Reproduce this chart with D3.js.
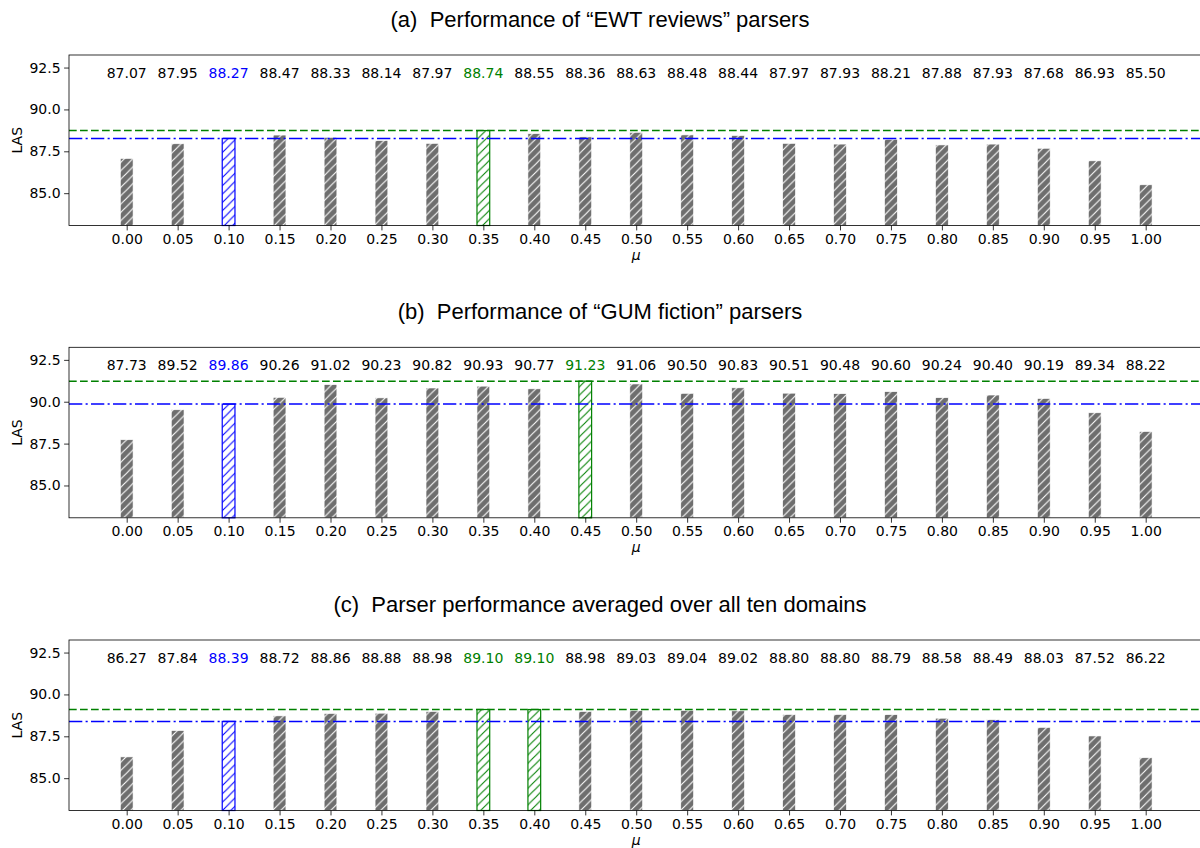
<!DOCTYPE html>
<html><head><meta charset="utf-8">
<script src="https://cdn.jsdelivr.net/npm/d3@7"></script>
<style>html,body{margin:0;padding:0;background:#fff;}svg{display:block;}</style>
</head><body>
<svg id="chart" width="1200" height="848"></svg>
<script>
const mus = ["0.00","0.05","0.10","0.15","0.20","0.25","0.30","0.35","0.40","0.45","0.50","0.55","0.60","0.65","0.70","0.75","0.80","0.85","0.90","0.95","1.00"];
const ewtValues = [87.07,87.95,88.27,88.47,88.33,88.14,87.97,88.74,88.55,88.36,88.63,88.48,88.44,87.97,87.93,88.21,87.88,87.93,87.68,86.93,85.50];
const gumValues = [87.73,89.52,89.86,90.26,91.02,90.23,90.82,90.93,90.77,91.23,91.06,90.50,90.83,90.51,90.48,90.60,90.24,90.40,90.19,89.34,88.22];
const avgValues = [86.27,87.84,88.39,88.72,88.86,88.88,88.98,89.10,89.10,88.98,89.03,89.04,89.02,88.80,88.80,88.79,88.58,88.49,88.03,87.52,86.22];
const titles = ["(a)  Performance of \u201cEWT reviews\u201d parsers","(b)  Performance of \u201cGUM fiction\u201d parsers","(c)  Parser performance averaged over all ten domains"];
const baselineIdx = [2,2,2];
const bestIdx = [[7],[9],[7,8]];
const yTicks = [85.0,87.5,90.0,92.5];
const yDomain = [83.07,93.25];
const labelLevel = 91.9;
const seriesList = [ewtValues, gumValues, avgValues];

const svg = d3.select("#chart");
const defs = svg.append("defs");
function hatch(id, bg, fg){
  const s = 8.33;
  const p = defs.append("pattern").attr("id",id).attr("patternUnits","userSpaceOnUse").attr("width",s).attr("height",s);
  p.append("rect").attr("width",s).attr("height",s).attr("fill",bg);
  const g = p.append("g").attr("stroke",fg).attr("stroke-width",1.1);
  g.append("line").attr("x1",0).attr("y1",s).attr("x2",s).attr("y2",0);
  g.append("line").attr("x1",-1).attr("y1",1).attr("x2",1).attr("y2",-1);
  g.append("line").attr("x1",s-1).attr("y1",s+1).attr("x2",s+1).attr("y2",s-1);
}
hatch("hGray","#6e6e6e","#ffffff");
hatch("hBlue","#ffffff","#0000ff");
hatch("hGreen","#ffffff","#008000");

const tops = [55, 347.3, 640];
const axH = 170.5;
const axL = 69, axR = 1203;
const step = 50.95, x0 = 126.7;
const x = d3.scaleLinear().domain([0, mus.length-1]).range([x0, x0 + step*(mus.length-1)]);
const barW = step*0.25;
const font = "'DejaVu Sans', sans-serif";

seriesList.forEach((vals, pi) => {
  const top = tops[pi];
  const y = d3.scaleLinear().domain(yDomain).range([top+axH, top]);
  const g = svg.append("g");
  const blue = baselineIdx[pi], greens = bestIdx[pi];
  const colorOf = i => i===blue ? "#0000ff" : (greens.includes(i) ? "#008000" : "#000");

  g.selectAll("rect.bar").data(vals).enter().append("rect")
    .attr("x",(d,i)=>x(i)-barW/2).attr("width",barW)
    .attr("y",d=>y(d)).attr("height",d=>y(yDomain[0])-y(d))
    .attr("fill",(d,i)=> i===blue ? "url(#hBlue)" : (greens.includes(i) ? "url(#hGreen)" : "url(#hGray)"))
    .attr("stroke",(d,i)=> i===blue ? "#0000ff" : (greens.includes(i) ? "#008000" : "#ffffff"))
    .attr("stroke-width",(d,i)=> (i===blue||greens.includes(i)) ? 1.2 : 0.6);

  const best = vals[greens[0]], base = vals[blue];
  g.append("line").attr("x1",axL).attr("x2",axR).attr("y1",y(best)).attr("y2",y(best))
    .attr("stroke","#008000").attr("stroke-width",1.5).attr("stroke-dasharray","7.7,3.3");
  g.append("line").attr("x1",axL).attr("x2",axR).attr("y1",y(base)).attr("y2",y(base))
    .attr("stroke","#0000ff").attr("stroke-width",1.5).attr("stroke-dasharray","13.3,3.3,2.1,3.3");

  g.selectAll("text.val").data(vals).enter().append("text")
    .attr("x",(d,i)=>x(i)).attr("y",y(labelLevel))
    .attr("text-anchor","middle").attr("font-family",font).attr("font-size","14px")
    .attr("fill",(d,i)=>colorOf(i)).text(d=>d.toFixed(2));

  const xa = d3.axisBottom(x).tickValues(d3.range(mus.length)).tickFormat(i=>mus[i]).tickSize(4.9).tickPadding(3.5);
  const xg = g.append("g").attr("transform",`translate(0,${top+axH})`).call(xa);
  const ya = d3.axisLeft(y).tickValues(yTicks).tickFormat(d3.format(".1f")).tickSize(4.9).tickPadding(3.5);
  const yg = g.append("g").attr("transform",`translate(${axL},0)`).call(ya);
  [xg,yg].forEach(a=>{
    a.select(".domain").remove();
    a.selectAll("text").attr("font-family",font).attr("font-size","14px").attr("fill","#000");
    a.selectAll("line").attr("stroke","#000").attr("stroke-width",0.8);
  });
  g.append("rect").attr("x",axL).attr("y",top).attr("width",axR-axL).attr("height",axH)
    .attr("fill","none").attr("stroke","#000").attr("stroke-width",0.8);

  g.append("text").attr("transform",`translate(22,${top+axH/2}) rotate(-90)`)
    .attr("text-anchor","middle").attr("font-family",font).attr("font-size","14px").text("LAS");
  g.append("text").attr("x",x(10)).attr("y",top+axH+34).attr("text-anchor","middle")
    .attr("font-family",font).attr("font-size","14px").attr("font-style","italic").text("\u03bc");
  g.append("text").attr("x",600).attr("y",top-28).attr("text-anchor","middle")
    .attr("xml:space","preserve").style("white-space","pre")
    .attr("font-family","'Liberation Sans', Arial, sans-serif").attr("font-size","22px").text(titles[pi]);
});
</script>
</body></html>
